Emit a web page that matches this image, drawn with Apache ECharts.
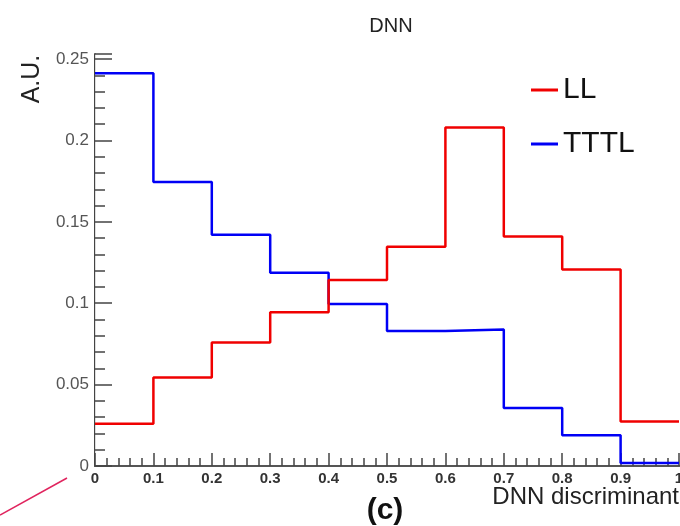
<!DOCTYPE html>
<html>
<head>
<meta charset="utf-8">
<script src="https://cdn.jsdelivr.net/npm/echarts@6/dist/echarts.min.js"></script>
<style>
  html, body { margin: 0; padding: 0; background: #fff; }
  #chart { width: 680px; height: 526px; }
</style>
</head>
<body>
<div id="chart"></div>
<script>
// bin low edges of the DNN discriminant histogram
const binEdges = [0, 0.1, 0.2, 0.3, 0.4, 0.5, 0.6, 0.7, 0.8, 0.9, 1.0];
// normalised content per bin (A.U.)
const llValues = [0.026, 0.0544, 0.0759, 0.0945, 0.1143, 0.1347, 0.2079, 0.141, 0.1207, 0.0273];
const ttlValues = [0.2412, 0.1744, 0.142, 0.1187, 0.0995, 0.0829, 0.0839, 0.0357, 0.0189, 0.0018];
const seriesNames = ["LL", "TTTL"];
const seriesColors = ["#f00000", "#0000f5"];

// step line points: left edge of every bin, then the right edge of the last one
const toSteps = (vals) => {
  const pts = vals.map((v, i) => [binEdges[i], v]);
  pts.push([binEdges[binEdges.length - 1], vals[vals.length - 1]]);
  return pts;
};

const chart = echarts.init(document.getElementById("chart"));
const font = "Liberation Sans, Arial, Helvetica, sans-serif";

const option = {
  backgroundColor: "#fff",
  animation: false,
  title: {
    text: "DNN",
    left: 386,
    top: 11,
    textAlign: "center",
    textStyle: { fontFamily: font, fontSize: 20, fontWeight: "normal", color: "#222" },
  },
  legend: {
    orient: "vertical",
    left: 526,
    top: 70,
    icon: "rect",
    itemWidth: 27,
    itemHeight: 3,
    itemGap: 24,
    data: seriesNames,
    textStyle: { fontFamily: font, fontSize: 30, color: "#111", lineHeight: 30 },
  },
  grid: { left: 95, right: 1, top: 54, bottom: 60, outerBoundsMode: "none", containLabel: false },
  xAxis: [
    {
      type: "value",
      min: 0,
      max: 1,
      interval: 0.1,
      axisLine: { lineStyle: { color: "#444", width: 2 } },
      axisTick: { inside: true, length: 13, lineStyle: { color: "#444", width: 1.5 } },
      minorTick: { show: true, splitNumber: 5, length: 8, lineStyle: { color: "#444", width: 1.5 } },
      splitLine: { show: false },
      axisLabel: {
        margin: 5,
        fontFamily: font,
        fontSize: 15,
        fontWeight: "bold",
        color: "#333",
        showMaxLabel: true,
        formatter: (v) => (Math.round(v * 10) / 10).toString(),
      },
    },
    {
      type: "value",
      position: "top",
      min: 0,
      max: 1,
      axisLine: { show: true, lineStyle: { color: "#555", width: 2 } },
      axisTick: { show: false },
      axisLabel: { show: false },
      splitLine: { show: false },
    },
  ],
  yAxis: [
    {
      type: "value",
      min: 0,
      max: 0.2531,
      interval: 0.05,
      axisLine: { show: true, lineStyle: { color: "#444", width: 2 } },
      axisTick: { inside: true, length: 17, lineStyle: { color: "#444", width: 1.5 } },
      minorTick: { show: true, splitNumber: 5, length: 10, lineStyle: { color: "#444", width: 1.5 } },
      splitLine: { show: false },
      axisLabel: {
        margin: 6,
        fontFamily: font,
        fontSize: 17,
        color: "#555",
        formatter: (v) => {
          const r = Math.round(v / 0.05);
          if (Math.abs(v - r * 0.05) > 1e-6) return "";
          return (r * 0.05).toFixed(2).replace(/0+$/, "").replace(/\.$/, "");
        },
      },
    },
    {
      type: "value",
      position: "right",
      min: 0,
      max: 0.2531,
      axisLine: { show: true, lineStyle: { color: "#ddd", width: 1 } },
      axisTick: { show: false },
      axisLabel: { show: false },
      splitLine: { show: false },
    },
  ],
  series: [
    {
      name: seriesNames[0],
      type: "line",
      step: "end",
      data: toSteps(llValues),
      showSymbol: false,
      color: seriesColors[0],
      lineStyle: { width: 2.5, color: seriesColors[0] },
      z: 3,
    },
    {
      name: seriesNames[1],
      type: "line",
      step: "end",
      data: toSteps(ttlValues),
      showSymbol: false,
      color: seriesColors[1],
      lineStyle: { width: 2.5, color: seriesColors[1] },
      z: 2,
    },
  ],
  graphic: [
    {
      type: "text",
      rotation: Math.PI / 2,
      x: 32,
      y: 79,
      style: { text: "A.U.", font: "25px " + font, fill: "#222", textAlign: "center", textVerticalAlign: "middle" },
    },
    {
      type: "text",
      x: 679,
      y: 497,
      style: { text: "DNN discriminant", font: "24px " + font, fill: "#222", textAlign: "right", textVerticalAlign: "middle" },
    },
    {
      type: "text",
      x: 385,
      y: 511,
      style: { text: "(c)", font: "bold 30px " + font, fill: "#111", textAlign: "center", textVerticalAlign: "middle" },
    },
    {
      type: "line",
      shape: { x1: 0, y1: 515, x2: 67, y2: 478 },
      style: { stroke: "#e0245e", lineWidth: 1.5 },
    },
  ],
};

chart.setOption(option);
</script>
</body>
</html>
